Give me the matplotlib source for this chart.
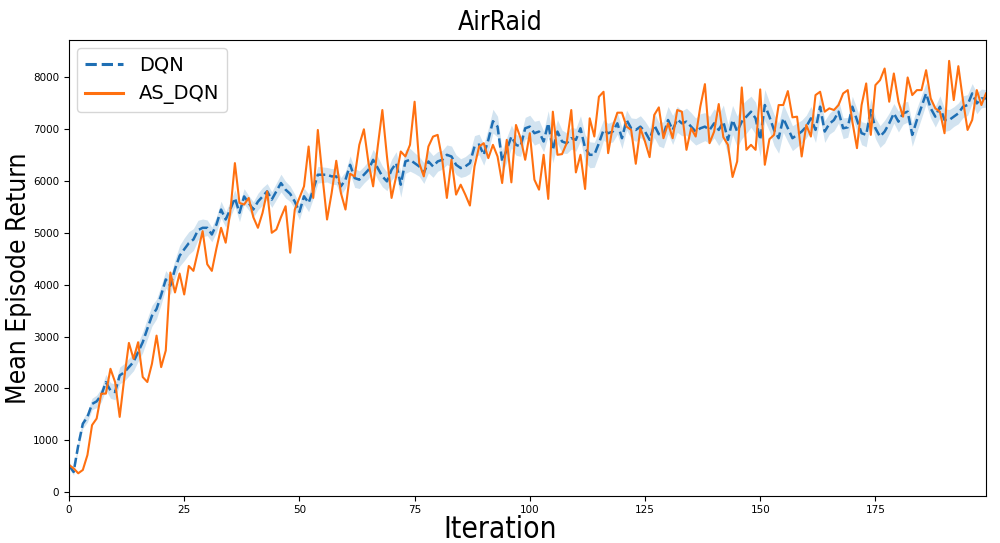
import numpy as np
import matplotlib
matplotlib.use("Agg")
import matplotlib.pyplot as plt

iterations = list(range(200))

dqn_mean = [
    520, 390, 900, 1320, 1450, 1700, 1750, 1870, 2120, 1960,
    1930, 2250, 2310, 2410, 2510, 2700, 2890, 3150, 3400, 3530,
    3800, 4100, 3980, 4300, 4555, 4680, 4800, 4870, 5050, 5095,
    5095, 4966, 5159, 5447, 5255, 5450, 5670, 5383, 5700, 5575,
    5447, 5600, 5700, 5798, 5639, 5800, 5958, 5830, 5750, 5600,
    5400, 5703, 5575, 5830, 6118, 6118, 6118, 6086, 6086, 5894,
    6022, 6310, 6054, 6022, 6118, 6214, 6406, 6246, 6086, 5990,
    6214, 6342, 5926, 6374, 6406, 6342, 6278, 6150, 6374, 6278,
    6374, 6406, 6502, 6470, 6310, 6246, 6278, 6342, 6662, 6700,
    6502, 6790, 7150, 7045, 6374, 6598, 6854, 6694, 6662, 7013,
    7045, 6918, 6950, 6758, 7109, 6598, 6950, 6758, 6726, 6822,
    6790, 7013, 6630, 6502, 6502, 6726, 6981, 6918, 6950, 7109,
    6822, 7173, 7013, 6981, 7045, 6950, 6790, 7077, 6900, 6886,
    7173, 6981, 7186, 7109, 7141, 7045, 6950, 7013, 7045, 6981,
    7109, 6981, 7141, 6790, 7173, 6950, 7141, 7237, 7333, 7205,
    6790, 7461, 7237, 6981, 6822, 7205, 7013, 6822, 6886, 6950,
    7045, 7205, 6981, 7430, 6950, 7100, 7173, 7333, 7013, 7032,
    7429, 7173, 6918, 6886, 7365, 7013, 6854, 6950, 7109, 7301,
    7141, 7301, 7333, 6886, 7173, 7429, 7685, 7397, 7237, 7429,
    7173, 7173, 7237, 7301, 7429, 7461, 7685, 7493, 7589, 7589,
]

dqn_spread = [
    60, 60, 80, 90, 100, 110, 120, 130, 150, 150,
    150, 160, 170, 170, 170, 180, 200, 200, 200, 190,
    180, 170, 170, 180, 200, 220, 220, 210, 190, 170,
    150, 140, 150, 160, 150, 150, 160, 170, 150, 140,
    150, 160, 170, 150, 150, 160, 170, 160, 150, 140,
    150, 160, 170, 170, 160, 150, 140, 150, 160, 170,
    160, 170, 180, 170, 160, 170, 200, 220, 200, 180,
    200, 220, 240, 230, 220, 200, 190, 200, 220, 210,
    190, 180, 190, 200, 190, 180, 190, 200, 210, 200,
    200, 220, 230, 200, 220, 240, 220, 200, 190, 210,
    220, 230, 220, 200, 240, 250, 230, 220, 200, 210,
    220, 240, 260, 250, 240, 220, 200, 190, 200, 210,
    200, 190, 200, 220, 210, 200, 220, 240, 230, 250,
    260, 280, 250, 240, 260, 270, 260, 280, 270, 260,
    280, 300, 320, 300, 280, 300, 330, 320, 300, 310,
    320, 300, 280, 300, 290, 270, 260, 240, 230, 220,
    220, 230, 240, 220, 210, 200, 210, 220, 200, 190,
    200, 210, 220, 230, 220, 200, 210, 220, 200, 190,
    200, 210, 200, 220, 230, 220, 200, 190, 200, 210,
    220, 200, 190, 200, 210, 200, 190, 200, 180, 170,
]

as_dqn = [
    524, 460, 364, 428, 716, 1292, 1419, 1899, 1899, 2378,
    2123, 1451, 2200, 2877, 2570, 2890, 2219, 2123, 2474, 3017,
    2410, 2730, 4233, 3849, 4214, 3810, 4360, 4265, 4650, 5031,
    4393, 4265, 4700, 5095, 4808, 5400, 6342, 5575, 5543, 5670,
    5300, 5095, 5383, 5798, 4999, 5063, 5300, 5511, 4616, 5447,
    5671, 5894, 6662, 5671, 6981, 6086, 5255, 5767, 6387, 5767,
    5447, 6137, 6086, 6694, 6994, 6342, 5894, 6662, 7365, 6470,
    5671, 6086, 6566, 6470, 6694, 7525, 6342, 6086, 6662, 6853,
    6886, 6406, 5671, 6406, 5735, 5926, 5735, 5524, 6278, 6662,
    6726, 6438, 6694, 6470, 5958, 6790, 5971, 7077, 6822, 6406,
    6918, 6022, 5830, 6502, 5652, 7333, 6502, 6515, 6726, 7365,
    6163, 6502, 5843, 7205, 6854, 7621, 7717, 6534, 7045, 7314,
    7314, 7045, 6981, 6329, 7013, 6758, 6457, 7269, 7416, 6822,
    7109, 6822, 7365, 7333, 6598, 7013, 6854, 7430, 7864, 6726,
    6950, 7480, 6841, 6694, 6074, 6374, 7800, 6598, 6694, 6598,
    7762, 6310, 6803, 6886, 7461, 7461, 7730, 7224, 7237, 6470,
    7077, 6854, 7653, 7717, 7333, 7397, 7365, 7461, 7685, 7749,
    7141, 6630, 7461, 7877, 6886, 7845, 7941, 8165, 7525, 8069,
    7525, 7237, 7993, 7653, 7749, 7749, 8133, 7589, 7397, 7333,
    6918, 8312, 7557, 8210, 7557, 6981, 7173, 7749, 7461, 7685,
]

title = "AirRaid"
x_label = "Iteration"
y_label = "Mean Episode Return"
series_names = ["DQN", "AS_DQN"]

x = np.array(iterations)
m = np.array(dqn_mean, dtype=float)
s = np.array(dqn_spread, dtype=float)
o = np.array(as_dqn, dtype=float)

fig = plt.figure(figsize=(10, 5.43), dpi=100)
ax = fig.add_axes([0.069, 0.087, 0.917, 0.839])

ax.fill_between(x, m - s, m + s, color="#1f77b4", alpha=0.2, linewidth=0)
ax.plot(x, m, linestyle="--", color="#1f6fb4", linewidth=1.8, label=series_names[0])
ax.plot(x, o, linestyle="-", color="#ff7010", linewidth=1.5, label=series_names[1])

ax.set_xlim(0, 199)
ax.set_xticks([0, 25, 50, 75, 100, 125, 150, 175])
ax.tick_params(axis="both", labelsize=7.5)

lab_font = dict(family="DejaVu Sans", fontstretch="condensed")
ax.set_title(title, fontsize=19, pad=7, x=0.47, **lab_font)
ax.set_xlabel(x_label, fontsize=21.5, **lab_font)
ax.xaxis.set_label_coords(0.47, -0.043)
ax.set_ylabel(y_label, fontsize=19, **lab_font)
ax.yaxis.set_label_coords(-0.040, 0.478)

leg = ax.legend(loc="upper left", fontsize=14, handlelength=2.0, borderaxespad=0.4)
for line in leg.get_lines():
    line.set_linewidth(2.2)

fig.savefig("out.png", dpi=100)
